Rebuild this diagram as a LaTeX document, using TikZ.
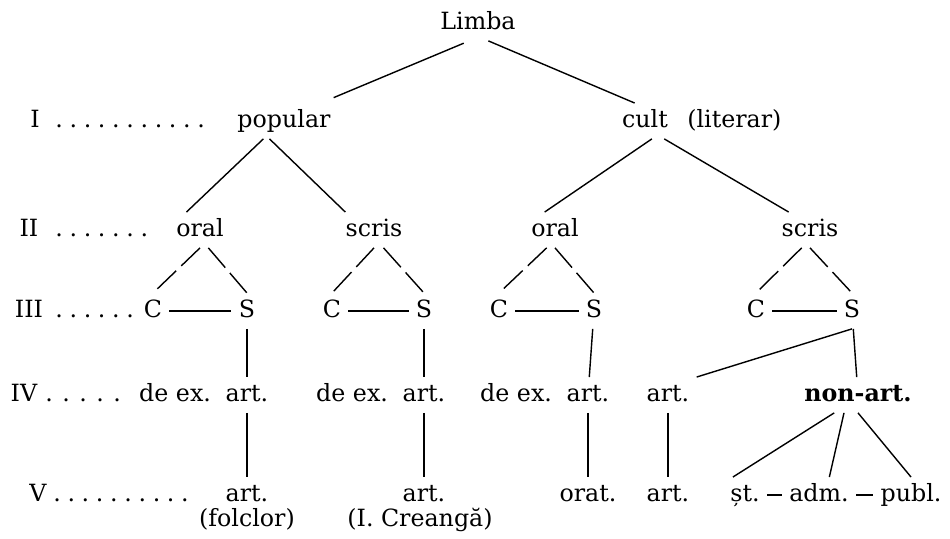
\documentclass[tikz,border=0pt]{standalone}
\usepackage{fontspec}
\setmainfont{DejaVu Serif}
\usetikzlibrary{positioning}

\newlength{\dotstep}
\setlength{\dotstep}{0.284cm}
\newcommand{\lvdot}{\makebox[\dotstep][l]{.}}

\tikzset{
	word/.style={anchor=base, text height=1em, text depth=0.2em, inner xsep=4pt, inner ysep=4pt},
	lvl/.style={anchor=base, inner sep=0pt},
	branch/.style={line width=0.8pt},
	split/.style={line width=0.8pt, dash pattern=on 0.52cm off 0.14cm},
}

\begin{document}
\begin{tikzpicture}[font=\fontsize{13.5}{16}\selectfont]
		%%%%% START %%%%%
		
		\useasboundingbox (0, 0) rectangle (19, 10.78);
		
		% levels
		\node[lvl] (lvI) at (0.70, 8.22) {I};
		\node[lvl, anchor=base west] (dotsI) at (1.10, 8.22) {\lvdot\lvdot\lvdot\lvdot\lvdot\lvdot\lvdot\lvdot\lvdot\lvdot\lvdot};
		\node[lvl] (lvII) at (0.58, 6.04) {II};
		\node[lvl, anchor=base west] (dotsII) at (1.10, 6.04) {\lvdot\lvdot\lvdot\lvdot\lvdot\lvdot\lvdot};
		\node[lvl] (lvIII) at (0.58, 4.42) {III};
		\node[lvl, anchor=base west] (dotsIII) at (1.10, 4.42) {\lvdot\lvdot\lvdot\lvdot\lvdot\lvdot};
		\node[lvl] (lvIV) at (0.48, 2.74) {IV};
		\node[lvl, anchor=base west] (dotsIV) at (0.90, 2.74) {\setlength{\dotstep}{0.34cm}\lvdot\lvdot\lvdot\lvdot\lvdot};
		\node[lvl] (lvV) at (0.76, 0.74) {V};
		\node[lvl, anchor=base west] (dotsV) at (1.06, 0.74) {\lvdot\lvdot\lvdot\lvdot\lvdot\lvdot\lvdot\lvdot\lvdot\lvdot};
		
		% tree
		\node[word] (limba) at (9.56, 10.18) {Limba};
		\node[word] (popular) at (5.68, 8.22) {popular};
		\node[word] (cult) at (12.90, 8.22) {cult};
		\node[word, anchor=base west] (literar) at (13.60, 8.22) {(literar)};
		
		\node[word] (oralA) at (4.00, 6.04) {oral};
		\node[word] (scrisA) at (7.48, 6.04) {scris};
		\node[word] (oralB) at (11.10, 6.04) {oral};
		\node[word] (scrisB) at (16.20, 6.04) {scris};
		
		\node[word] (CA) at (3.06, 4.42) {C};
		\node[word] (SA) at (4.94, 4.42) {S};
		\node[word] (CB) at (6.64, 4.42) {C};
		\node[word] (SB) at (8.48, 4.42) {S};
		\node[word] (CC) at (9.98, 4.42) {C};
		\node[word] (SC) at (11.88, 4.42) {S};
		\node[word] (CD) at (15.12, 4.42) {C};
		\node[word] (SD) at (17.04, 4.42) {S};
		
		\node[word] (artA) at (4.94, 2.74) {art.};
		\node[word, base left=0pt of artA] (deexA) {de ex.};
		\node[word] (artB) at (8.48, 2.74) {art.};
		\node[word, base left=0pt of artB] (deexB) {de ex.};
		\node[word] (artC) at (11.76, 2.74) {art.};
		\node[word, base left=0pt of artC] (deexC) {de ex.};
		\node[word] (artD) at (13.36, 2.74) {art.};
		\node[word] (nonart) at (17.16, 2.74) {\textbf{non-art.}};
		
		\node[word] (artVA) at (4.94, 0.74) {art.};
		\node[word] (folclor) at (4.94, 0.24) {(folclor)};
		\node[word] (artVB) at (8.48, 0.74) {art.};
		\node[word] (creanga) at (8.40, 0.24) {(I. Creangă)};
		\node[word] (orat) at (11.76, 0.74) {orat.};
		\node[word] (artVD) at (13.36, 0.74) {art.};
		\node[word] (st) at (14.90, 0.74) {șt.};
		\node[word] (adm) at (16.38, 0.74) {adm.};
		\node[word] (publ) at (18.22, 0.74) {publ.};
		
		% connectors
		\draw[branch, shorten <=0.12cm, shorten >=0.28cm] (limba.244) -- (popular.26);
		\draw[branch] (limba.300) -- (cult.120);
		\draw[branch] (popular.221) -- (oralA.127);
		\draw[branch] (popular.231) -- (scrisA.148);
		\draw[branch] (cult.291) -- (oralB.120);
		\draw[branch] (cult.317) -- (scrisB.140);
		
		\draw[split] (oralA.south) -- (CA.north);
		\draw[split] (oralA.295) -- (SA.north);
		\draw[split] (scrisA.south) -- (CB.north);
		\draw[split] (scrisA.298) -- (SB.north);
		\draw[split] (oralB.245) -- (CC.north);
		\draw[split] (oralB.south) -- (SC.north);
		\draw[split] (scrisB.245) -- (CD.north);
		\draw[split] (scrisB.south) -- (SD.north);
		
		\draw[branch] (CA) -- (SA);
		\draw[branch] (CB) -- (SB);
		\draw[branch] (CC) -- (SC);
		\draw[branch] (CD) -- (SD);
		
		\draw[branch] (SA) -- (artA);
		\draw[branch] (artA) -- (artVA);
		\draw[branch] (SB) -- (artB);
		\draw[branch] (artB) -- (artVB);
		\draw[branch] (SC) -- (artC);
		\draw[branch] (artC) -- (orat);
		\draw[branch] (SD.south) -- (artD.north east);
		\draw[branch] (SD) -- (nonart);
		\draw[branch] (artD) -- (artVD);
		
		\draw[branch] (nonart.217) -- (st.124);
		\draw[branch] (nonart.232) -- (adm.60);
		\draw[branch] (nonart.south) -- (publ.north);
		\draw[branch] (st) -- (adm);
		\draw[branch] (adm) -- (publ);
		
		%%%%% END %%%%%
\end{tikzpicture}
\end{document}
